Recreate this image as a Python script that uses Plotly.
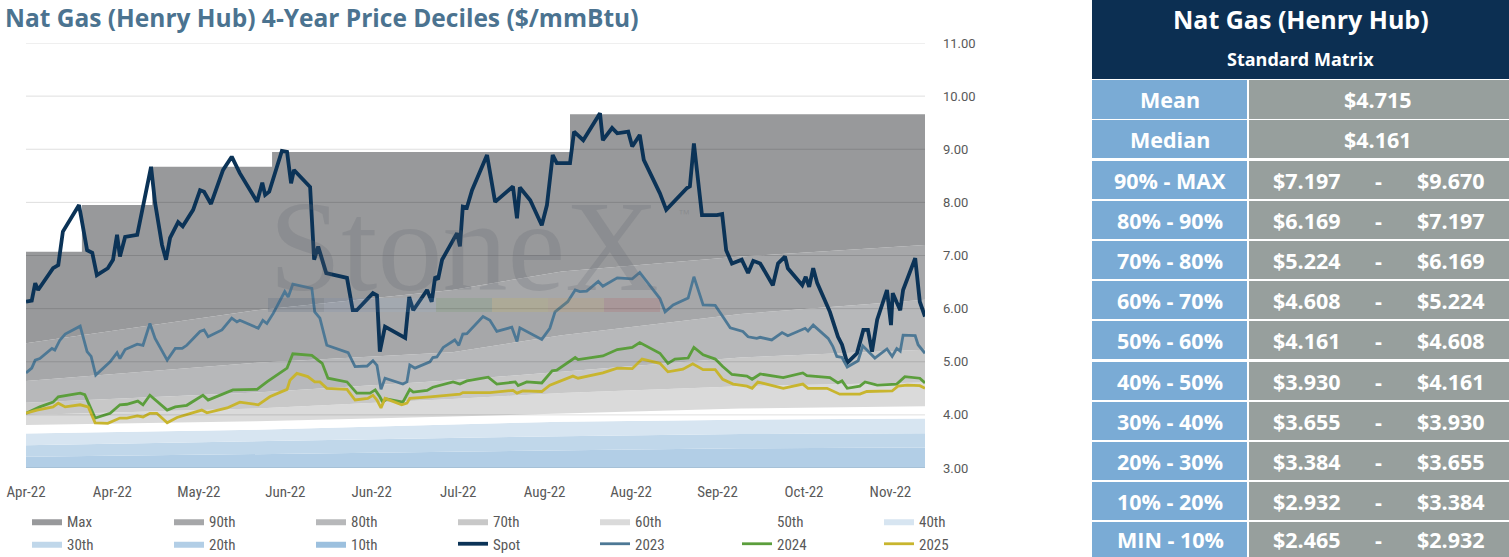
import plotly.graph_objects as go

W, H = 1509, 557
GS_W = 1050  # width of plotting area (controls legend wrapping)

# ---------------- data ----------------
TICK_DAYS = [0, 15, 30, 45, 60, 75, 90, 105, 120, 135, 150]
TICK_LABELS = ["Apr-22", "Apr-22", "May-22", "Jun-22", "Jun-22", "Jul-22",
               "Aug-22", "Aug-22", "Sep-22", "Oct-22", "Nov-22"]
Y_TICKS = [3, 4, 5, 6, 7, 8, 9, 10, 11]

# decile boundaries (trading-day index)
DEC_DAY = [0, 40, 74, 93, 124, 156]
P_MIN = [2.40, 2.42, 2.44, 2.45, 2.46, 2.465]
P10 = [2.85, 2.88, 2.90, 2.91, 2.92, 2.932]
P20 = [3.21, 3.26, 3.31, 3.33, 3.37, 3.384]
P30 = [3.43, 3.50, 3.57, 3.60, 3.64, 3.655]
P40 = [3.65, 3.72, 3.82, 3.87, 3.91, 3.930]
P50 = [3.81, 3.88, 3.97, 4.03, 4.12, 4.161]
P60 = [4.00, 4.12, 4.30, 4.41, 4.54, 4.608]
P70 = [4.23, 4.42, 4.65, 4.81, 5.08, 5.224]
P80 = [4.64, 4.98, 5.18, 5.50, 5.90, 6.169]
P90 = [5.35, 5.97, 6.35, 6.70, 6.98, 7.197]
MAX_DAY = [0, 9.7, 21.9, 42.7, 94.4, 156]
MAX_VAL = [7.07, 7.95, 8.67, 8.95, 9.66, 9.66]

SPOT_DAY = [0.0, 1.0, 1.6, 2.1, 4.7, 5.6, 6.4, 9.2, 10.6, 11.5, 12.3, 14.2, 15.1, 15.8, 16.3, 17.2,
            19.3, 20.6, 21.7, 22.4, 23.6, 24.3, 25.0, 26.4, 27.2, 29.0, 30.2, 30.9, 32.1, 34.2,
            35.7, 37.1, 40.1, 41.0, 41.5, 42.2, 44.4, 45.3, 46.0, 46.5, 49.3, 50.0, 50.7, 52.1,
            55.7, 56.7, 57.4, 60.2, 60.9, 61.4, 62.3, 65.8, 66.5, 67.2, 69.6, 70.4, 71.0, 71.5,
            72.2, 74.8, 75.3, 75.8, 76.5, 77.4, 80.0, 81.4, 84.5, 85.2, 85.7, 87.5, 89.5, 90.4,
            91.4, 92.1, 94.4, 95.1, 96.7, 99.6, 100.1, 101.7, 102.6, 104.5, 105.2, 106.5, 107.2,
            110.0, 111.1, 114.7, 115.2, 115.9, 117.3, 119.9, 120.8, 121.5, 122.5, 124.2, 125.3,
            126.2, 127.4, 129.6, 130.5, 131.7, 132.2, 134.7, 135.3, 135.9, 136.6, 137.3, 139.5,
            140.9, 141.6, 142.5, 144.2, 145.3, 146.1, 146.8, 147.7, 149.4, 150.1, 150.4, 151.7,
            152.2, 154.3, 155.1, 156.0]
SPOT = [6.13, 6.15, 6.48, 6.35, 6.76, 6.82, 7.45, 7.95, 7.10, 7.05, 6.63, 6.76, 6.92, 7.39, 6.98, 7.35,
        7.39, 8.10, 8.67, 7.99, 7.20, 6.92, 7.33, 7.63, 7.55, 7.86, 8.23, 8.20, 7.97, 8.61,
        8.86, 8.55, 8.01, 8.37, 8.14, 8.20, 8.97, 8.95, 8.36, 8.61, 8.29, 6.92, 7.17, 6.67,
        6.58, 5.97, 5.97, 6.29, 6.25, 5.19, 5.66, 5.45, 6.22, 5.97, 6.35, 6.13, 6.60, 6.55,
        6.92, 7.42, 7.17, 7.92, 7.90, 8.23, 8.89, 8.01, 8.30, 7.70, 8.28, 8.04, 7.57, 7.95,
        8.89, 8.74, 8.74, 9.33, 9.17, 9.68, 9.17, 9.40, 9.30, 9.33, 9.05, 9.27, 8.80,
        8.17, 7.86, 8.27, 8.30, 9.11, 7.76, 7.76, 7.78, 7.10, 6.85, 6.92, 6.67,
        6.90, 6.85, 6.44, 6.85, 6.98, 6.76, 6.44, 6.60, 6.41, 6.76, 6.48, 5.94,
        5.47, 5.32, 4.98, 5.16, 5.60, 5.60, 5.19, 5.79, 6.35, 5.69, 6.29, 5.97,
        6.35, 6.95, 6.13, 5.85]

Y2023_DAY = [0.0, 1.0, 1.6, 2.4, 4.5, 5.0, 5.9, 6.8, 9.4, 10.6, 11.3, 12.1, 14.6, 15.8, 16.3, 17.2,
             19.3, 20.3, 21.5, 22.4, 24.5, 25.9, 27.1, 27.9, 30.2, 30.9, 31.6, 34.0, 35.7, 36.6,
             37.1, 40.3, 41.1, 41.8, 42.9, 44.9, 45.5, 46.3, 49.6, 50.1, 51.0, 52.2, 55.9, 57.1,
             59.2, 60.2, 60.9, 61.6, 62.3, 65.4, 66.1, 66.6, 67.5, 70.1, 70.6, 71.3, 72.4, 74.4,
             75.1, 75.8, 76.5, 79.3, 80.5, 81.7, 84.3, 85.2, 85.7, 89.5, 90.9, 91.8, 94.0, 95.3,
             96.1, 97.3, 99.3, 100.1, 102.6, 105.2, 106.5, 110.0, 110.9, 112.3, 114.9, 115.9,
             117.5, 119.6, 120.9, 122.2, 124.4, 125.3, 126.8, 127.4, 129.4, 131.2, 132.2, 135.2,
             135.7, 136.6, 139.2, 140.0, 140.7, 141.6, 142.5, 144.4, 145.2, 146.8, 147.3, 149.4,
             150.3, 151.1, 151.7, 152.2, 154.3, 154.8, 156.0]
Y2023 = [4.79, 4.88, 5.03, 5.06, 5.25, 5.22, 5.41, 5.52, 5.67, 5.19, 5.10, 4.75, 5.00, 5.17, 5.06, 5.23,
         5.33, 5.31, 5.72, 5.44, 5.03, 5.25, 5.25, 5.31, 5.57, 5.60, 5.47, 5.60, 5.82, 5.75,
         5.78, 5.63, 5.78, 5.72, 5.91, 6.32, 6.22, 6.46, 6.38, 5.94, 5.82, 5.31, 5.17, 4.91,
         4.92, 5.02, 4.93, 4.48, 4.69, 4.58, 4.62, 4.94, 4.88, 5.00, 5.08, 5.09, 5.27, 5.41,
         5.31, 5.52, 5.53, 5.85, 5.78, 5.57, 5.65, 5.38, 5.64, 5.42, 5.63, 5.94, 6.13, 6.35,
         6.32, 6.33, 6.51, 6.42, 6.58, 6.56, 6.68, 6.19, 5.94, 6.07, 6.20, 6.60,
         6.07, 6.06, 5.85, 5.64, 5.57, 5.47, 5.44, 5.46, 5.41, 5.55, 5.49, 5.63,
         5.58, 5.69, 5.44, 5.29, 5.10, 5.08, 4.90, 5.02, 5.30, 5.13, 5.07, 5.24,
         5.10, 5.25, 5.20, 5.50, 5.49, 5.32, 5.16]

Y2024_DAY = [0.0, 2.4, 4.7, 5.6, 9.4, 10.2, 12.0, 14.6, 16.3, 17.5, 19.4, 20.3, 21.5, 24.5, 25.9, 27.9,
             30.7, 31.6, 35.9, 40.1, 41.8, 45.3, 46.3, 49.6, 51.4, 52.4, 55.7, 57.4, 59.7, 60.6,
             61.4, 61.9, 62.6, 65.4, 66.6, 67.2, 69.6, 70.6, 74.1, 75.3, 76.5, 80.2, 81.7, 84.9,
             85.4, 86.9, 89.5, 91.3, 92.1, 95.3, 95.8, 97.3, 100.1, 102.6, 105.2, 106.5, 110.0,
             111.4, 112.6, 114.9, 115.9, 117.5, 119.6, 120.9, 122.5, 125.1, 126.0, 127.4, 131.4,
             134.8, 135.5, 139.5, 140.9, 141.6, 142.5, 144.7, 145.6, 147.7, 149.9, 151.1, 152.5,
             155.1, 156.0]
Y2024 = [4.03, 4.15, 4.24, 4.34, 4.41, 4.38, 3.94, 4.03, 4.19, 4.20, 4.26, 4.19, 4.37, 4.09, 4.15, 4.18,
         4.37, 4.28, 4.47, 4.48, 4.62, 4.88, 5.15, 5.12, 4.97, 4.69, 4.62, 4.41, 4.41, 4.47,
         4.34, 4.24, 4.30, 4.24, 4.48, 4.43, 4.46, 4.52, 4.62, 4.58, 4.64, 4.71, 4.58, 4.62,
         4.55, 4.62, 4.60, 4.83, 4.84, 5.08, 5.04, 5.06, 5.11, 5.23, 5.27, 5.36, 5.16,
         4.97, 5.05, 5.07, 5.27, 5.13, 5.05, 4.91, 4.76, 4.73, 4.67, 4.77, 4.70,
         4.79, 4.74, 4.70, 4.60, 4.64, 4.50, 4.54, 4.62, 4.56, 4.58, 4.58, 4.72,
         4.69, 4.60]

Y2025_DAY = [0.0, 1.9, 4.7, 5.6, 6.8, 9.4, 10.8, 12.0, 14.2, 16.3, 17.5, 19.3, 20.3, 21.5, 22.7, 24.5,
             26.2, 30.5, 31.4, 34.9, 37.1, 40.3, 42.3, 45.3, 45.8, 47.0, 48.9, 50.1, 51.0, 52.2,
             55.7, 57.1, 59.3, 60.2, 60.9, 61.6, 62.3, 65.2, 66.1, 66.6, 70.1, 73.1, 75.3, 75.8,
             80.5, 84.5, 85.2, 86.2, 89.5, 90.9, 94.9, 95.8, 100.1, 102.6, 105.2, 106.9, 110.0,
             111.4, 114.0, 115.7, 117.5, 119.6, 120.9, 122.7, 125.1, 126.0, 127.0, 131.4, 134.8,
             135.7, 139.0, 141.2, 142.6, 144.7, 145.9, 150.3, 151.3, 152.9, 155.1, 156.0]
Y2025 = [4.03, 4.09, 4.15, 4.22, 4.15, 4.19, 4.15, 3.85, 3.84, 3.94, 3.94, 3.98, 3.96, 4.03, 4.03, 3.85,
         3.95, 4.09, 4.04, 4.13, 4.24, 4.19, 4.34, 4.48, 4.65, 4.78, 4.72, 4.62, 4.62, 4.50,
         4.48, 4.28, 4.31, 4.37, 4.28, 4.13, 4.31, 4.19, 4.22, 4.31, 4.34, 4.37, 4.39, 4.42,
         4.42, 4.46, 4.41, 4.45, 4.44, 4.56, 4.73, 4.69, 4.79, 4.88, 4.87, 5.05, 4.97,
         4.81, 4.86, 4.96, 4.85, 4.85, 4.67, 4.58, 4.54, 4.50, 4.62, 4.50, 4.58,
         4.50, 4.50, 4.39, 4.39, 4.39, 4.44, 4.45, 4.54, 4.56, 4.55, 4.50]

# table data
TABLE_TITLE = "Nat Gas (Henry Hub)"
TABLE_SUB = "Standard Matrix"
MEAN = 4.715
MEDIAN = 4.161
RANGE_LABELS = ["90% - MAX", "80% - 90%", "70% - 80%", "60% - 70%", "50% - 60%",
                "40% - 50%", "30% - 40%", "20% - 30%", "10% - 20%", "MIN - 10%"]
RANGE_LOW = [7.197, 6.169, 5.224, 4.608, 4.161, 3.930, 3.655, 3.384, 2.932, 2.465]
RANGE_HIGH = [9.670, 7.197, 6.169, 5.224, 4.608, 4.161, 3.930, 3.655, 3.384, 2.932]

# ---------------- styles ----------------
BAND_NAMES = ["10th", "20th", "30th", "40th", "50th", "60th", "70th", "80th", "90th", "Max"]
BAND_COLORS = ["#9cc0de", "#b2cee6", "#c0d7ea", "#d7e5f1", "#ffffff",
               "#dadada", "#c8c8c8", "#b7b8ba", "#a6a7a9", "#98999b"]
BAND_TOPS = [P10, P20, P30, P40, P50, P60, P70, P80, P90]

COND = "Liberation Sans Narrow, Roboto Condensed, DejaVu Sans Condensed, Arial Narrow, sans-serif"
TBL_FONT = "Open Sans, Noto Sans, sans-serif"
GREY_TXT = "#595959"


def px(xp):
    return xp / GS_W


def py(yp):
    return 1 - yp / H


fig = go.Figure()

fig.add_trace(go.Scatter(x=DEC_DAY, y=P_MIN, mode="lines", line=dict(width=0),
                         showlegend=False, hoverinfo="skip"))
for i, (name, col) in enumerate(zip(BAND_NAMES, BAND_COLORS)):
    if name == "Max":
        xs, ys, shape = MAX_DAY, MAX_VAL, "hv"
    else:
        xs, ys, shape = DEC_DAY, BAND_TOPS[i], "linear"
    fig.add_trace(go.Scatter(x=xs, y=ys, mode="lines", line=dict(width=0, color=col, shape=shape),
                             fill="tonexty", fillcolor=col, name=name,
                             legendrank=10 - i, hoverinfo="skip"))

LINES = [("Spot", SPOT_DAY, SPOT, "#0b3357", 3.8),
         ("2023", Y2023_DAY, Y2023, "#4d7895", 2.8),
         ("2024", Y2024_DAY, Y2024, "#5b9e3c", 2.8),
         ("2025", Y2025_DAY, Y2025, "#c8b52e", 2.8)]
for k, (name, xs, ys, col, w) in enumerate(LINES):
    fig.add_trace(go.Scatter(x=xs, y=ys, mode="lines", name=name,
                             line=dict(color=col, width=w), legendrank=11 + k))

shapes = []
# gridlines on top of the bands
for v in Y_TICKS:
    shapes.append(dict(type="line", xref="x", yref="y", x0=0, x1=156, y0=v, y1=v,
                       line=dict(color="rgba(0,0,0,0.13)", width=1), layer="above"))

# watermark strip
STRIP_COLORS = ["#1f3f66", "#5a7fb0", "#8fb8de", "#4f8f3f", "#e0c020", "#e09a30", "#c03030"]
for k, c in enumerate(STRIP_COLORS):
    x0 = 268 + k * 56
    shapes.append(dict(type="rect", xref="paper", yref="paper", x0=px(x0), x1=px(x0 + 56),
                       y0=py(312), y1=py(298), fillcolor=c, opacity=0.13, line=dict(width=0),
                       layer="above"))

# table
NAVY = "#0c2f52"
LBLUE = "#7aabd5"
TGREY = "#979f9d"
TX0, TSPLIT, TX1 = 1092, 1248, 1509
shapes.append(dict(type="rect", xref="paper", yref="paper", x0=px(TX0), x1=px(TX1),
                   y0=py(79), y1=py(0), fillcolor=NAVY, line=dict(width=0)))

annotations = []
CELL_FONT = dict(family=TBL_FONT, size=21.5, color="white", weight="bold")


def cell_row(top, bottom, label, values):
    shapes.append(dict(type="rect", xref="paper", yref="paper", x0=px(TX0), x1=px(TSPLIT - 1),
                       y0=py(bottom), y1=py(top), fillcolor=LBLUE, line=dict(width=0)))
    shapes.append(dict(type="rect", xref="paper", yref="paper", x0=px(TSPLIT + 1), x1=px(TX1),
                       y0=py(bottom), y1=py(top), fillcolor=TGREY, line=dict(width=0)))
    yc = py((top + bottom) / 2)
    annotations.append(dict(x=px((TX0 + TSPLIT) / 2), y=yc, xref="paper", yref="paper",
                            text=label, showarrow=False, xanchor="center", yanchor="middle",
                            font=CELL_FONT))
    for xv, txt in values:
        annotations.append(dict(x=px(xv), y=yc, xref="paper", yref="paper", text=txt,
                                showarrow=False, xanchor="center", yanchor="middle",
                                font=CELL_FONT))


cell_row(80, 119, "Mean", [(1378, f"${MEAN:.3f}")])
cell_row(120, 158, "Median", [(1378, f"${MEDIAN:.3f}")])
for k, (lab, lo, hi) in enumerate(zip(RANGE_LABELS, RANGE_LOW, RANGE_HIGH)):
    top = 161 + 40 * k if k < 5 else 362 + 40 * (k - 5)
    cell_row(top, min(top + 38, H), lab,
             [(1307, f"${lo:.3f}"), (1378, "-"), (1451, f"${hi:.3f}")])

annotations.append(dict(x=px((TX0 + TX1) / 2), y=py(19), xref="paper", yref="paper",
                        text=TABLE_TITLE, showarrow=False, xanchor="center", yanchor="middle",
                        font=dict(family=TBL_FONT, size=25, color="white", weight="bold")))
annotations.append(dict(x=px((TX0 + TX1) / 2), y=py(59), xref="paper", yref="paper",
                        text=TABLE_SUB, showarrow=False, xanchor="center", yanchor="middle",
                        font=dict(family=TBL_FONT, size=18, color="white", weight="bold")))

# chart title
annotations.append(dict(x=px(3), y=py(18), xref="paper", yref="paper",
                        text="Nat Gas (Henry Hub) 4-Year Price Deciles ($/mmBtu)",
                        showarrow=False, xanchor="left", yanchor="middle",
                        font=dict(family=TBL_FONT, size=24.5, color="#4b7390", weight="bold")))

# watermark text
annotations.append(dict(x=px(464), y=py(246), xref="paper", yref="paper", text="StoneX",
                        showarrow=False, xanchor="center", yanchor="middle",
                        font=dict(family="Liberation Serif, DejaVu Serif, serif", size=130,
                                  color="rgba(95,100,108,0.22)")))
annotations.append(dict(x=px(684), y=py(214), xref="paper", yref="paper", text="™",
                        showarrow=False, xanchor="center", yanchor="middle",
                        font=dict(family="Liberation Sans, sans-serif", size=12,
                                  color="rgba(95,100,108,0.25)")))

fig.update_layout(
    width=W, height=H, autosize=False,
    margin=dict(l=0, r=W - GS_W, t=0, b=0, pad=0, autoexpand=False),
    paper_bgcolor="white", plot_bgcolor="white",
    shapes=shapes, annotations=annotations,
    hovermode=False,
    legend=dict(orientation="h", x=px(27), xanchor="left", y=py(505), yanchor="top",
                entrywidth=97, entrywidthmode="pixels", itemwidth=30,
                font=dict(family=COND, size=15, color=GREY_TXT),
                bgcolor="rgba(0,0,0,0)", borderwidth=0, traceorder="normal"),
    xaxis=dict(domain=[px(26), px(925)], range=[0, 156], tickvals=TICK_DAYS,
               ticktext=TICK_LABELS, showgrid=False, zeroline=False, showline=False,
               ticks="", ticklabelstandoff=13,
               tickfont=dict(family=COND, size=15, color=GREY_TXT)),
    yaxis=dict(domain=[py(468), py(43)], range=[3, 11], side="right", tickvals=Y_TICKS,
               tickformat=".2f", showgrid=False, zeroline=False, showline=False,
               ticks="", ticklabelstandoff=17,
               tickfont=dict(family="Roboto, sans-serif", size=13, color=GREY_TXT)),
)

fig.write_html("out.html", config={"displayModeBar": False},
               post_script="document.body.style.margin='0';")
